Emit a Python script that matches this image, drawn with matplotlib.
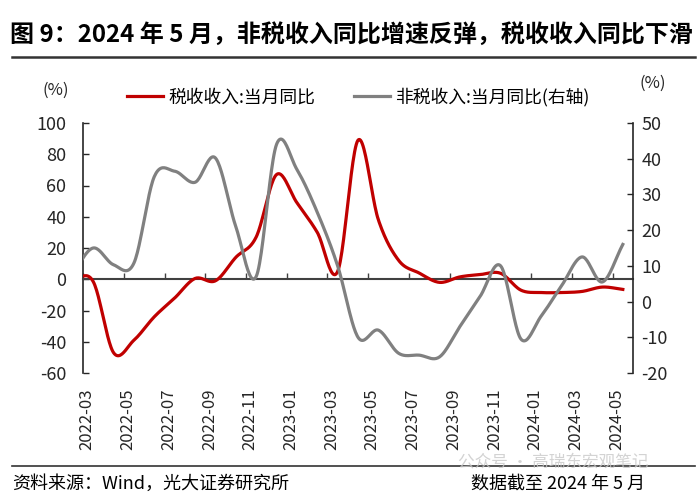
import numpy as np
import matplotlib
matplotlib.use("Agg")
import matplotlib.pyplot as plt
from matplotlib.lines import Line2D

plt.rcParams['font.family'] = ['Noto Sans CJK SC', 'DejaVu Sans']
plt.rcParams['axes.unicode_minus'] = False

# ===== 数据 =====
months = ['2022-02', '2022-03', '2022-04', '2022-05', '2022-06', '2022-07', '2022-08',
          '2022-09', '2022-10', '2022-11', '2022-12', '2023-01', '2023-02', '2023-03',
          '2023-04', '2023-05', '2023-06', '2023-07', '2023-08', '2023-09', '2023-10',
          '2023-11', '2023-12', '2024-01', '2024-02', '2024-03', '2024-04', '2024-05']
# 税收收入:当月同比 (左轴, %)
tax = [0, -1.5, -47, -39, -24, -12, 0.5, -1, 14, 27, 67, 49, 30, 5,
       89, 38, 12, 4, -2, 1.5, 3, 3.8, -7, -8.5, -8.5, -7.8, -5, -6.5]
# 非税收入:当月同比 (右轴, %)
nontax = [8, 15, 10.3, 10.8, 35, 36.5, 33.4, 40.2, 21, 7, 44, 37, 25, 10,
          -10, -8, -14.5, -15, -15.5, -7, 1.5, 10, -10.5, -4, 4.5, 12.5, 5.5, 16]

title = "图 9：2024 年 5 月，非税收入同比增速反弹，税收收入同比下滑"
source = "资料来源：Wind，光大证券研究所"
note = "数据截至 2024 年 5 月"

RED = '#C00000'
GRAY = '#808080'
DARK = '#262626'


def smooth(y, n=24):
    # Catmull-Rom 平滑 (类似 Excel 平滑线)
    y = np.asarray(y, dtype=float)
    x = np.arange(len(y), dtype=float)
    m = np.zeros_like(y)
    m[1:-1] = (y[2:] - y[:-2]) / 2
    m[0] = y[1] - y[0]
    m[-1] = y[-1] - y[-2]
    xs, ys = [], []
    t = np.linspace(0, 1, n, endpoint=False)
    h00 = 2 * t**3 - 3 * t**2 + 1
    h10 = t**3 - 2 * t**2 + t
    h01 = -2 * t**3 + 3 * t**2
    h11 = t**3 - t**2
    for i in range(len(y) - 1):
        xs.append(x[i] + t)
        ys.append(h00 * y[i] + h10 * m[i] + h01 * y[i + 1] + h11 * m[i + 1])
    xs.append([x[-1]])
    ys.append([y[-1]])
    return np.concatenate(xs), np.concatenate(ys)


fig = plt.figure(figsize=(7, 5), dpi=100)
ax = fig.add_axes([0.1186, 0.254, 0.7857, 0.5])
ax2 = ax.twinx()

xs, ys = smooth(tax)
l1, = ax.plot(xs, ys, color=RED, lw=2.3, label='税收收入:当月同比', zorder=3)
xs2, ys2 = smooth(nontax)
l2, = ax2.plot(xs2, ys2, color=GRAY, lw=2.3, label='非税收入:当月同比(右轴)')

ax.set_xlim(0.5, 27.5)
ax.set_ylim(-60, 100)
ax.set_yticks(np.arange(-60, 101, 20))
ax2.set_ylim(-20, 50)
ax2.set_yticks(np.arange(-20, 51, 10))

# x 轴：零线 + 向上刻度
tick_pos = [i - 0.5 for i, m in enumerate(months) if int(m[-2:]) % 2 == 1 and i >= 1]
tick_lab = [m for i, m in enumerate(months) if int(m[-2:]) % 2 == 1 and i >= 1]
ax.spines['bottom'].set_position(('data', 0))
ax.spines['bottom'].set_color('#404040')
ax.spines['bottom'].set_linewidth(1.5)
ax.set_xticks(tick_pos)
ax.tick_params(axis='x', direction='in', length=4, width=1, color='#404040',
               labelbottom=False)

sec = ax.secondary_xaxis(0)
sec.set_xticks([p + 0.2 for p in tick_pos])
sec.set_xticklabels(tick_lab, rotation=90, fontsize=12, color=DARK)
sec.tick_params(length=0, pad=11)
sec.spines['bottom'].set_visible(False)

ax.spines['top'].set_visible(False)
ax.spines['right'].set_visible(False)
ax.spines['left'].set_color(DARK)
ax.spines['left'].set_linewidth(1.2)
ax.tick_params(axis='y', direction='in', length=4, width=1, pad=12,
               labelsize=13, colors=DARK)

for s in ['top', 'bottom', 'left']:
    ax2.spines[s].set_visible(False)
ax2.spines['right'].set_color(DARK)
ax2.spines['right'].set_linewidth(1.2)
ax2.tick_params(axis='y', direction='in', length=4, width=1, pad=6,
                labelsize=13, colors=DARK)

fig.text(0.08, 0.82, '(%)', fontsize=12, ha='center', va='center', color=DARK)
fig.text(0.933, 0.834, '(%)', fontsize=12, ha='center', va='center', color=DARK)

fig.legend(handles=[l1, l2], loc='center', bbox_to_anchor=(0.512, 0.806), ncol=2,
           frameon=False, fontsize=12.8, handlelength=2.0, columnspacing=2.2,
           handletextpad=0.3)

# 标题与脚注
fig.text(0.015, 0.93, title, fontsize=17.3, fontweight='bold', va='center', ha='left',
         color='black')
fig.add_artist(Line2D([0.017, 0.993], [0.886, 0.886], transform=fig.transFigure,
                      color='#333333', lw=1.8))
fig.add_artist(Line2D([0.017, 0.993], [0.068, 0.068], transform=fig.transFigure,
                      color='#333333', lw=1.2))
fig.text(0.017, 0.032, source, fontsize=13, va='center', ha='left', color='black')
fig.text(0.922, 0.032, note, fontsize=13, va='center', ha='right', color='black')
fig.text(0.655, 0.076, '公众号 · 高瑞东宏观笔记', fontsize=12, va='center', ha='left',
         color='#c8c8c8', alpha=0.8)

fig.savefig('out.png', dpi=100)
